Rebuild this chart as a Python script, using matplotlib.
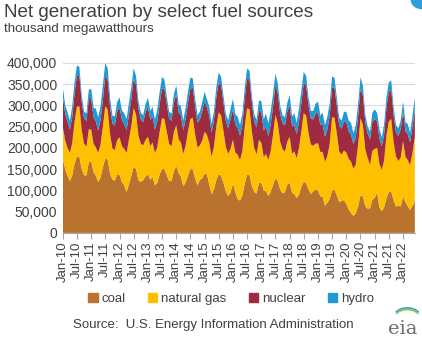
import matplotlib.pyplot as plt
from matplotlib.patches import Rectangle, Arc, Circle
import numpy as np
import pandas as pd

# monthly net generation, thousand MWh, Jan 2010 - Jun 2022
coal = [
    172000, 150000, 135000, 122000, 135000, 164000, 180000, 180000, 150000, 136000, 135000, 167000,
    168000, 143000, 135000, 120000, 130000, 155000, 176000, 172000, 140000, 125000, 123000, 138000,
    137000, 120000, 112000, 96000, 115000, 135000, 156000, 150000, 124000, 120000, 124000, 133000,
    138000, 125000, 132000, 112000, 118000, 138000, 150000, 150000, 136000, 122000, 122000, 145000,
    158000, 140000, 133000, 110000, 118000, 136000, 150000, 150000, 128000, 112000, 125000, 128000,
    140000, 137000, 115000, 91000, 102000, 125000, 138000, 135000, 118000, 98000, 87000, 95000,
    116000, 96000, 80000, 76000, 88000, 116000, 137000, 136000, 111000, 96000, 93000, 118000,
    118000, 99000, 98000, 87000, 97000, 113000, 128000, 122000, 102000, 93000, 96000, 114000,
    118000, 94000, 92000, 82000, 90000, 108000, 120000, 118000, 102000, 92000, 98000, 103000,
    100000, 86000, 85000, 64000, 71000, 80000, 100000, 101000, 88000, 72000, 76000, 77000,
    68000, 55000, 47000, 40000, 46000, 64000, 88000, 86000, 63000, 57000, 58000, 78000,
    83000, 95000, 60000, 51000, 60000, 82000, 96000, 98000, 77000, 62000, 64000, 62000,
    86000, 72000, 63000, 54000, 63000, 75000,
]
natural_gas = [
    76000, 67000, 66000, 66000, 76000, 98000, 117000, 118000, 92000, 74000, 68000, 77000,
    75000, 66000, 67000, 68000, 78000, 96000, 122000, 118000, 92000, 74000, 72000, 80000,
    88000, 84000, 86000, 92000, 105000, 116000, 138000, 128000, 104000, 90000, 82000, 86000,
    88000, 79000, 81000, 76000, 84000, 100000, 120000, 118000, 102000, 87000, 82000, 92000,
    96000, 80000, 80000, 76000, 87000, 103000, 118000, 121000, 104000, 89000, 81000, 89000,
    98000, 93000, 97000, 88000, 101000, 126000, 145000, 142000, 122000, 105000, 99000, 104000,
    103000, 93000, 104000, 95000, 104000, 134000, 156000, 155000, 128000, 104000, 92000, 101000,
    94000, 79000, 88000, 85000, 95000, 118000, 150000, 135000, 112000, 104000, 95000, 101000,
    108000, 92000, 100000, 94000, 110000, 132000, 162000, 158000, 132000, 116000, 107000, 107000,
    111000, 104000, 106000, 103000, 110000, 130000, 172000, 170000, 145000, 120000, 108000, 117000,
    121000, 119000, 121000, 111000, 115000, 145000, 182000, 168000, 133000, 120000, 102000, 115000,
    115000, 105000, 103000, 97000, 110000, 148000, 166000, 170000, 136000, 118000, 105000, 115000,
    130000, 107000, 109000, 105000, 125000, 150000,
]
nuclear = [
    72000, 63000, 62000, 55000, 61000, 67000, 72000, 72000, 66000, 59000, 61000, 71000,
    72000, 63000, 61000, 53000, 57000, 63000, 71000, 71000, 65000, 58000, 58000, 67000,
    70000, 62000, 58000, 54000, 58000, 64000, 69000, 70000, 64000, 57000, 55000, 65000,
    70000, 62000, 61000, 55000, 60000, 65000, 70000, 71000, 65000, 60000, 60000, 70000,
    72000, 63000, 64000, 56000, 63000, 67000, 71000, 71000, 66000, 59000, 61000, 70000,
    72000, 64000, 64000, 57000, 62000, 68000, 71000, 71000, 66000, 61000, 60000, 69000,
    72000, 65000, 64000, 58000, 62000, 67000, 71000, 71000, 67000, 62000, 63000, 70000,
    72000, 63000, 64000, 56000, 63000, 67000, 70000, 71000, 65000, 61000, 62000, 71000,
    73000, 64000, 63000, 56000, 62000, 67000, 71000, 71000, 65000, 61000, 62000, 71000,
    72000, 64000, 66000, 59000, 62000, 67000, 70000, 71000, 65000, 61000, 61000, 69000,
    71000, 65000, 64000, 58000, 63000, 67000, 70000, 70000, 64000, 57000, 60000, 69000,
    70000, 62000, 60000, 56000, 61000, 66000, 69000, 70000, 64000, 58000, 59000, 67000,
    69000, 60000, 61000, 54000, 60000, 66000,
]
hydro = [
    22000, 20000, 22000, 21000, 25000, 27000, 25000, 21000, 16000, 16000, 18000, 22000,
    24000, 22000, 30000, 31000, 33000, 35000, 31000, 26000, 21000, 19000, 21000, 23000,
    24000, 22000, 26000, 26000, 28000, 28000, 25000, 21000, 17000, 16000, 16000, 19000,
    22000, 21000, 23000, 24000, 28000, 29000, 27000, 22000, 17000, 16000, 17000, 20000,
    21000, 19000, 22000, 23000, 25000, 27000, 26000, 22000, 18000, 17000, 18000, 21000,
    22000, 20000, 21000, 20000, 22000, 24000, 23000, 20000, 16000, 16000, 19000, 24000,
    24000, 25000, 26000, 25000, 25000, 25000, 23000, 20000, 17000, 17000, 18000, 23000,
    26000, 26000, 31000, 30000, 31000, 30000, 27000, 23000, 19000, 19000, 19000, 20000,
    25000, 24000, 27000, 27000, 31000, 30000, 26000, 22000, 19000, 18000, 20000, 23000,
    26000, 22000, 26000, 28000, 30000, 29000, 26000, 23000, 19000, 18000, 19000, 22000,
    25000, 25000, 27000, 26000, 29000, 28000, 26000, 22000, 18000, 17000, 18000, 21000,
    23000, 20000, 22000, 21000, 24000, 24000, 23000, 21000, 17000, 16000, 18000, 21000,
    24000, 21000, 24000, 23000, 27000, 28000,
]
series_names = ["coal", "natural gas", "nuclear", "hydro"]
colors = ["#B9732F", "#FFC000", "#9E2B3E", "#1F9AD6"]

months = pd.date_range("2010-01-01", periods=len(coal), freq="MS")

fig = plt.figure(figsize=(4.22, 3.44), dpi=100)
plt.rcParams['font.family'] = ['Liberation Sans', 'DejaVu Sans']
ax = fig.add_axes([0.149, 0.323, 0.834, 0.494])

ax.stackplot(months, coal, natural_gas, nuclear, hydro, colors=colors, linewidth=0)

ax.set_ylim(0, 400000)
ax.set_xlim(months[0], months[-1])
ax.set_yticks(np.arange(0, 400001, 50000))
ax.yaxis.set_major_formatter(plt.FuncFormatter(lambda v, p: f"{int(v):,}"))
ax.grid(axis="y", color="#D9D9D9", linewidth=0.8)
ax.set_axisbelow(True)

tick_dates = pd.date_range("2010-01-01", "2022-01-01", freq="6MS")
ax.set_xticks(tick_dates)
ax.set_xticklabels([d.strftime("%b-%y") for d in tick_dates], rotation=90)

for s in ["top", "right", "left"]:
    ax.spines[s].set_visible(False)
ax.spines["bottom"].set_color("#A6A6A6")
ax.tick_params(axis="y", length=0, labelsize=10, colors="#404040", pad=4)
ax.tick_params(axis="x", length=4, color="#A6A6A6", labelsize=9.5, labelcolor="#404040", pad=2)

fig.text(0.01, 0.963, "Net generation by select fuel sources", fontsize=13.6, color="#404040", va="center")
fig.text(0.01, 0.915, "thousand megawatthours", fontsize=9.6, color="#404040", va="center")

handles = [Rectangle((0, 0), 1, 1, color=c) for c in colors]
fig.legend(handles, series_names, loc="center", bbox_to_anchor=(0.548, 0.13), ncol=4,
           frameon=False, fontsize=9.5, handlelength=0.7, handleheight=0.7,
           handletextpad=0.3, columnspacing=1.7, labelcolor="#404040")

fig.text(0.173, 0.055, "Source:  U.S. Energy Information Administration", fontsize=9.5,
         color="#404040", va="center")

# eia logo
fig.text(0.955, 0.045, "eia", fontsize=14, family="DejaVu Serif", color="#6E6E6E",
         ha="center", va="center")
fig.patches.append(Arc((0.965, 0.07), 0.07, 0.07, theta1=40, theta2=140,
                       transform=fig.transFigure, color="#2E9FD8", lw=1.2))
fig.patches.append(Arc((0.965, 0.065), 0.07, 0.07, theta1=40, theta2=140,
                       transform=fig.transFigure, color="#9BC53D", lw=1.2))
fig.patches.append(Circle((1.0, 1.0), 0.025, transform=fig.transFigure, color="#2E9FD8"))

fig.savefig("out.png", dpi=100)
